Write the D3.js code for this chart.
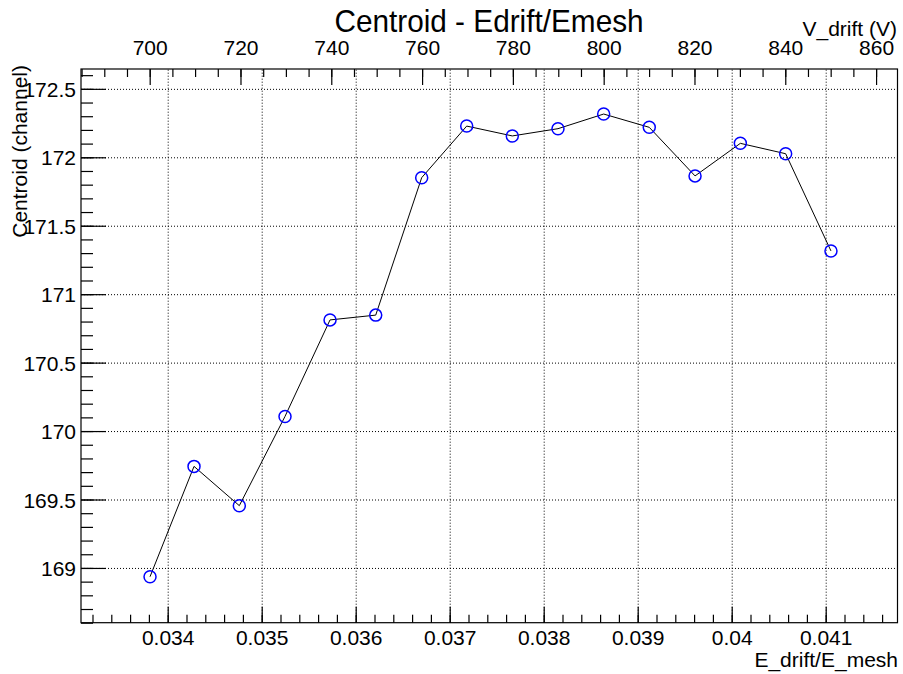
<!DOCTYPE html>
<html>
<head>
<meta charset="utf-8">
<script src="https://cdn.jsdelivr.net/npm/d3@7"></script>
<style>
  html, body { margin: 0; padding: 0; background: #fff; }
  svg { display: block; }
  text { font-family: "Liberation Sans", Arial, Helvetica, sans-serif; fill: #000; }
</style>
</head>
<body>
<svg id="chart" width="903" height="674"></svg>
<script>
// Measured field ratio (bottom axis) and the peak centroid at each setting
const ratio = [0.033812, 0.034280, 0.034762, 0.035248, 0.035727, 0.036213, 0.036702, 0.037181,
               0.037666, 0.038152, 0.038638, 0.039123, 0.039610, 0.040092, 0.040574, 0.041056];
const centroid = [168.936, 169.742, 169.455, 170.107, 170.812, 170.847, 171.851, 172.228,
                  172.156, 172.209, 172.316, 172.219, 171.864, 172.102, 172.026, 171.316];

// Axis ranges and ticks
const ratioRange = [0.0330777, 0.0417638];
const voltRange = [684.87, 864.72];
const centroidRange = [168.6, 172.645];
const ratioTicks = [0.034, 0.035, 0.036, 0.037, 0.038, 0.039, 0.040, 0.041];
const ratioLabels = ["0.034", "0.035", "0.036", "0.037", "0.038", "0.039", "0.04", "0.041"];
const voltTicks = [700, 720, 740, 760, 780, 800, 820, 840, 860];
const voltLabels = ["700", "720", "740", "760", "780", "800", "820", "840", "860"];
const centroidTicks = [169, 169.5, 170, 170.5, 171, 171.5, 172, 172.5];
const centroidLabels = ["169", "169.5", "170", "170.5", "171", "171.5", "172", "172.5"];

const svg = d3.select("#chart");
const frame = { left: 81, right: 897.5, top: 69, bottom: 622.7 };

const x = d3.scaleLinear().domain(ratioRange).range([frame.left, frame.right]);
const xTop = d3.scaleLinear().domain(voltRange).range([frame.left, frame.right]);
const y = d3.scaleLinear().domain(centroidRange).range([frame.bottom, frame.top]);

const plotW = frame.right - frame.left;
const plotH = frame.bottom - frame.top;

// minor tick positions built from the ranges
function minorTicks(lo, hi, step) {
  const out = [];
  const start = Math.ceil(lo / step - 1e-9);
  const end = Math.floor(hi / step + 1e-9);
  for (let i = start; i <= end; i++) out.push(+(i * step).toFixed(6));
  return out;
}
const ratioMinor = minorTicks(ratioRange[0], ratioRange[1], 0.0002);
const voltMinor = minorTicks(voltRange[0], voltRange[1], 5);
const centroidMinor = minorTicks(centroidRange[0], centroidRange[1], 0.1);

// dotted grid at major ticks
const grid = svg.append("g").attr("class", "grid");
grid.append("g")
  .attr("transform", `translate(0,${frame.bottom})`)
  .call(d3.axisBottom(x).tickValues(ratioTicks).tickSize(-plotH).tickFormat(""))
  .call(g => g.select(".domain").remove());
grid.append("g")
  .attr("transform", `translate(${frame.left},0)`)
  .call(d3.axisLeft(y).tickValues(centroidTicks).tickSize(-plotW).tickFormat(""))
  .call(g => g.select(".domain").remove());
grid.selectAll("line")
  .attr("stroke", "#000").attr("stroke-width", 1).attr("stroke-dasharray", "1,2");

// frame
svg.append("rect")
  .attr("x", frame.left).attr("y", frame.top)
  .attr("width", plotW).attr("height", plotH)
  .attr("fill", "none").attr("stroke", "#000").attr("stroke-width", 1.2);

const fontSize = 21;

// bottom axis (ticks point inward)
const bottomMinor = svg.append("g").attr("transform", `translate(0,${frame.bottom})`)
  .call(d3.axisBottom(x).tickValues(ratioMinor).tickSize(-8).tickFormat(""));
const bottomMajor = svg.append("g").attr("transform", `translate(0,${frame.bottom})`)
  .call(d3.axisBottom(x).tickValues(ratioTicks).tickSize(-16)
    .tickFormat((d, i) => ratioLabels[i]));
bottomMajor.selectAll("text").attr("y", 22.3).attr("dy", null)
  .style("font-size", fontSize + "px");

// top voltage axis
const topMinor = svg.append("g").attr("transform", `translate(0,${frame.top})`)
  .call(d3.axisTop(xTop).tickValues(voltMinor).tickSize(-8).tickFormat(""));
const topMajor = svg.append("g").attr("transform", `translate(0,${frame.top})`)
  .call(d3.axisTop(xTop).tickValues(voltTicks).tickSize(-16)
    .tickFormat((d, i) => voltLabels[i]));
topMajor.selectAll("text").attr("y", -14).attr("dy", null)
  .style("font-size", fontSize + "px");

// left axis
const leftMinor = svg.append("g").attr("transform", `translate(${frame.left},0)`)
  .call(d3.axisLeft(y).tickValues(centroidMinor).tickSize(-12).tickFormat(""));
const leftMajor = svg.append("g").attr("transform", `translate(${frame.left},0)`)
  .call(d3.axisLeft(y).tickValues(centroidTicks).tickSize(-25)
    .tickFormat((d, i) => centroidLabels[i]));
leftMajor.selectAll("text").attr("x", -5).attr("dy", "0.36em")
  .style("font-size", fontSize + "px");

[bottomMinor, bottomMajor, topMinor, topMajor, leftMinor, leftMajor].forEach(g => {
  g.select(".domain").remove();
  g.selectAll("line").attr("stroke", "#000").attr("stroke-width", 1.2);
  g.selectAll("text").attr("font-family", null);
  g.attr("font-family", null).attr("font-size", null);
});

// connecting line and open circle markers
const pts = ratio.map((r, i) => [r, centroid[i]]);
svg.append("path")
  .datum(pts)
  .attr("fill", "none").attr("stroke", "#000").attr("stroke-width", 1)
  .attr("d", d3.line().x(d => x(d[0])).y(d => y(d[1])));
svg.append("g").selectAll("circle")
  .data(pts).join("circle")
  .attr("cx", d => x(d[0])).attr("cy", d => y(d[1]))
  .attr("r", 6)
  .attr("fill", "none").attr("stroke", "#0000ff").attr("stroke-width", 1.5);

// titles
svg.append("text")
  .attr("transform", "translate(489,32) scale(0.93,1)")
  .attr("text-anchor", "middle")
  .style("font-size", "32px")
  .text("Centroid - Edrift/Emesh");
svg.append("text")
  .attr("x", 897).attr("y", 36).attr("text-anchor", "end")
  .style("font-size", fontSize + "px")
  .text("V_drift (V)");
svg.append("text")
  .attr("x", 898).attr("y", 667).attr("text-anchor", "end")
  .style("font-size", fontSize + "px")
  .text("E_drift/E_mesh");
svg.append("text")
  .attr("transform", "translate(27,65) rotate(-90)")
  .attr("text-anchor", "end")
  .style("font-size", fontSize + "px")
  .text("Centroid (channel)");
</script>
</body>
</html>
